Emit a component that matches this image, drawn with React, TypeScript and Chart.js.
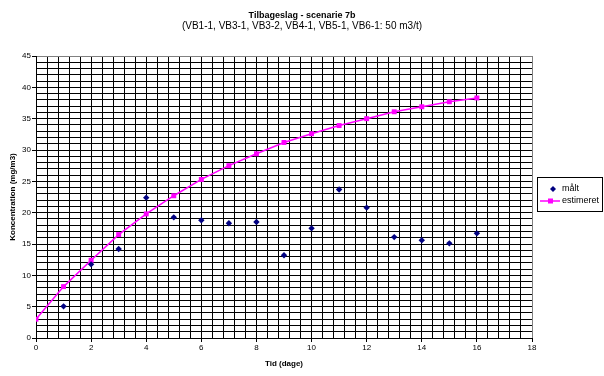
import { useEffect, useRef } from "react";
import { Chart, registerables } from "chart.js";

Chart.register(...registerables);

const titleText = "Tilbageslag - scenarie 7b";
const subtitleText = "(VB1-1, VB3-1, VB3-2, VB4-1, VB5-1, VB6-1: 50 m3/t)";
const xTitle = "Tid (dage)";
const yTitle = "Koncentration (mg/m3)";
const seriesNames = ["målt", "estimeret"];

const measuredDays = [1, 2, 3, 4, 5, 6, 7, 8, 9, 10, 11, 12, 13, 14, 15, 16];
const measured = [5.05, 11.75, 14.2, 22.4, 19.25, 18.8, 18.3, 18.5, 13.2, 17.5, 23.7, 20.8, 16.1, 15.6, 15.1, 16.7];

const estimatedDays = [0, 1, 2, 3, 4, 5, 6, 7, 8, 9, 10, 11, 12, 13, 14, 15, 16];
const estimated = [3.0, 8.2, 12.4, 16.5, 19.8, 22.7, 25.3, 27.5, 29.4, 31.2, 32.6, 33.9, 35.0, 36.1, 36.9, 37.7, 38.3];

const xMin = 0;
const xMax = 18;
const xGridStep = 0.4;
const xLabelStep = 2;
const yMin = 0;
const yMax = 45;
const yGridStep = 1;
const yLabelStep = 5;

const FONT = "'Liberation Sans', Arial, sans-serif";
const BLUE = "#000080";
const PINK = "#FF00FF";

const isMultiple = (v: number, step: number) => Math.abs(v / step - Math.round(v / step)) < 1e-6;

export default function App() {
  const ref = useRef<HTMLCanvasElement | null>(null);

  useEffect(() => {
    if (!ref.current) return;

    const decorations = {
      id: "decorations",
      afterDraw(chart: any) {
        const ctx = chart.ctx as CanvasRenderingContext2D;
        ctx.save();
        ctx.fillStyle = "#000";
        ctx.textAlign = "center";
        ctx.textBaseline = "middle";
        ctx.font = `bold 9px ${FONT}`;
        ctx.fillText(titleText, 302, 16);
        ctx.font = `10px ${FONT}`;
        ctx.fillText(subtitleText, 302, 26);

        // legend
        const lx = 537, ly = 177, lw = 65, lh = 34;
        ctx.strokeStyle = "#000";
        ctx.lineWidth = 1;
        ctx.strokeRect(lx + 0.5, ly + 0.5, lw, lh);
        // measured: diamond
        const y1 = 189, y2 = 201;
        ctx.fillStyle = BLUE;
        ctx.beginPath();
        ctx.moveTo(553, y1 - 3);
        ctx.lineTo(556, y1);
        ctx.lineTo(553, y1 + 3);
        ctx.lineTo(550, y1);
        ctx.closePath();
        ctx.fill();
        // estimated: line + square
        ctx.strokeStyle = PINK;
        ctx.lineWidth = 1.5;
        ctx.beginPath();
        ctx.moveTo(540, y2);
        ctx.lineTo(560, y2);
        ctx.stroke();
        ctx.fillStyle = PINK;
        ctx.fillRect(550.5 - 2.5, y2 - 2.5, 5, 5);

        ctx.fillStyle = "#000";
        ctx.textAlign = "left";
        ctx.font = `9px ${FONT}`;
        ctx.fillText(seriesNames[0], 562, y1);
        ctx.fillText(seriesNames[1], 562, y2);
        ctx.restore();
      },
    };

    const chart = new Chart(ref.current, {
      type: "scatter",
      data: {
        datasets: [
          {
            label: seriesNames[0],
            data: measuredDays.map((d, i) => ({ x: d, y: measured[i] })),
            showLine: false,
            pointStyle: "rectRot",
            pointRadius: 3.2,
            backgroundColor: BLUE,
            borderColor: BLUE,
            borderWidth: 0,
          },
          {
            label: seriesNames[1],
            data: estimatedDays.map((d, i) => ({ x: d, y: estimated[i] })),
            showLine: true,
            pointStyle: "rect",
            pointRadius: 3.5,
            backgroundColor: PINK,
            borderColor: PINK,
            borderWidth: 1.5,
            pointBorderWidth: 0,
          },
        ],
      },
      options: {
        responsive: false,
        animation: false,
        layout: { padding: { left: 0, top: 56, right: 72, bottom: 0 } },
        plugins: {
          legend: { display: false },
          title: { display: false },
          tooltip: { enabled: false },
        },
        scales: {
          x: {
            type: "linear",
            min: xMin,
            max: xMax,
            afterFit: (s: any) => {
              s.height = 38;
            },
            ticks: {
              stepSize: xGridStep,
              autoSkip: false,
              maxRotation: 0,
              padding: 1,
              color: "#000",
              font: { family: FONT, size: 8 },
              callback: (v: any) => (isMultiple(Number(v), xLabelStep) ? String(Math.round(Number(v))) : ""),
            },
            grid: {
              color: (c: any) => (c.tick && Math.abs(c.tick.value - xMax) < 1e-6 ? "#808080" : "#000"),
              lineWidth: 1,
              tickLength: 4,
              tickColor: (c: any) => (c.tick && isMultiple(c.tick.value, xLabelStep) ? "#000" : "rgba(0,0,0,0)"),
            },
            border: { color: "#000", width: 1 },
            title: {
              display: true,
              text: xTitle,
              color: "#000",
              font: { family: FONT, size: 8, weight: "bold" },
              padding: { top: 0, bottom: 7 },
            },
          },
          y: {
            type: "linear",
            min: yMin,
            max: yMax,
            afterFit: (s: any) => {
              s.width = 36;
            },
            ticks: {
              stepSize: yGridStep,
              autoSkip: false,
              padding: 1,
              color: "#000",
              font: { family: FONT, size: 8 },
              callback: (v: any) => (isMultiple(Number(v), yLabelStep) ? String(Math.round(Number(v))) : ""),
            },
            grid: {
              color: (c: any) => (c.tick && Math.abs(c.tick.value - yMax) < 1e-6 ? "#808080" : "#000"),
              lineWidth: 1,
              tickLength: 4,
              tickColor: (c: any) => (c.tick && isMultiple(c.tick.value, yLabelStep) ? "#000" : "rgba(0,0,0,0)"),
            },
            border: { color: "#000", width: 1 },
            title: {
              display: true,
              text: yTitle,
              color: "#000",
              font: { family: FONT, size: 8, weight: "bold" },
              padding: { top: 8, bottom: 0 },
            },
          },
        },
      },
      plugins: [decorations],
    });

    return () => chart.destroy();
  }, []);

  return (
    <div style={{ position: "fixed", left: 0, top: 0, width: 604, height: 376, background: "#fff" }}>
      <canvas ref={ref} width={604} height={376} style={{ display: "block", width: 604, height: 376 }} />
    </div>
  );
}
